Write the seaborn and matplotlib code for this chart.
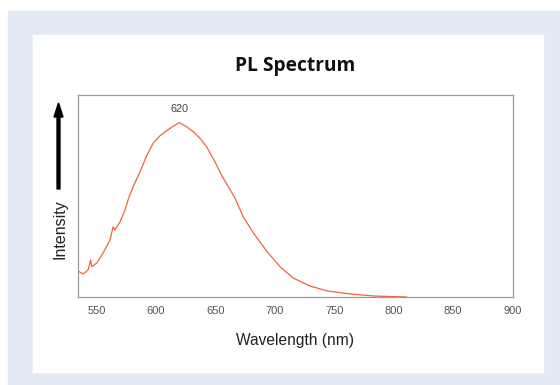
import pandas as pd
import matplotlib
matplotlib.use("Agg")
import matplotlib.pyplot as plt
from matplotlib.patches import Rectangle, FancyArrow
import seaborn as sns

# PL spectrum (intensity normalised to axis height)
wavelength = [534.5, 538.7, 542.9, 545.1, 546.0, 550.2, 555.5, 561.3, 563.9, 565.5,
              569.7, 574.0, 576.5, 580.7, 586.6, 592.2, 597.7, 603.4, 609.0, 614.5,
              619.6, 625.8, 631.3, 637.0, 642.6, 649.6, 655.0, 660.0, 666.5, 673.5,
              682.0, 693.7, 704.6, 715.5, 729.8, 744.0, 763.5, 782.8, 811.0]
intensity = [0.129, 0.114, 0.134, 0.183, 0.150, 0.168, 0.218, 0.282, 0.347, 0.332,
             0.371, 0.431, 0.480, 0.545, 0.620, 0.700, 0.762, 0.798, 0.823, 0.845,
             0.863, 0.843, 0.819, 0.786, 0.744, 0.670, 0.605, 0.555, 0.490, 0.396,
             0.317, 0.223, 0.149, 0.094, 0.054, 0.030, 0.015, 0.005, 0.0]
peak_wl = 620
x_ticks = [550, 600, 650, 700, 750, 800, 850, 900]

df = pd.DataFrame({"wavelength": wavelength, "intensity": intensity})

sns.set_style("white")
plt.rcParams["font.family"] = ["Liberation Sans", "DejaVu Sans"]

W, H = 560, 385
fig = plt.figure(figsize=(W / 100, H / 100), dpi=100)
fig.patch.set_facecolor("white")

#Background panel and white card (pixel coords -> figure fractions)
def px_rect(x0, y0, x1, y1, color):
    fig.patches.append(Rectangle((x0 / W, 1 - y1 / H), (x1 - x0) / W, (y1 - y0) / H,
                                 transform=fig.transFigure, color=color, zorder=-2))

px_rect(8, 11, 560, 385, "#e3eaf6")
px_rect(33, 35, 543, 372, "white")

ax = fig.add_axes([77.5 / W, 1 - 297 / H, 435 / W, 202 / H])
ax.set_facecolor("white")
sns.lineplot(data=df, x="wavelength", y="intensity", ax=ax, color="#f0643c", linewidth=0.9)

ax.set_xlim(534, 900)
ax.set_ylim(0, 1)
ax.set_xticks(x_ticks)
ax.set_xticklabels([str(t) for t in x_ticks], fontsize=8, color="#555555")
ax.set_yticks([])
ax.tick_params(axis="x", direction="out", length=3.8, width=0.8, color="#999999", pad=3)
for s in ax.spines.values():
    s.set_color("#999999")
    s.set_linewidth(0.9)

ax.set_xlabel("Wavelength (nm)", fontsize=11.2, color="#222222", labelpad=12)
ax.set_ylabel("")

#Peak label
ax.annotate(str(peak_wl), xy=(peak_wl, max(intensity)), xytext=(0, 6),
            textcoords="offset points", ha="center", va="bottom",
            fontsize=7.8, color="#444444")

fig.text(295 / W, 1 - 70.5 / H, "PL Spectrum", ha="center", va="baseline",
         fontsize=13.8, fontweight="bold", family=["Open Sans", "DejaVu Sans"], color="#111111")

#Intensity label with arrow
fig.text(60 / W, 1 - 229 / H, "Intensity", rotation=90, ha="center", va="center",
         fontsize=11.5, color="#222222")
fig.patches.append(FancyArrow(
    58.5 / W, 1 - 189 / H, 0, (189 - 103) / H, width=2 / H, head_width=9 / W,
    head_length=14 / H, length_includes_head=True, transform=fig.transFigure,
    color="black"))

fig.savefig("out.png", dpi=100)
